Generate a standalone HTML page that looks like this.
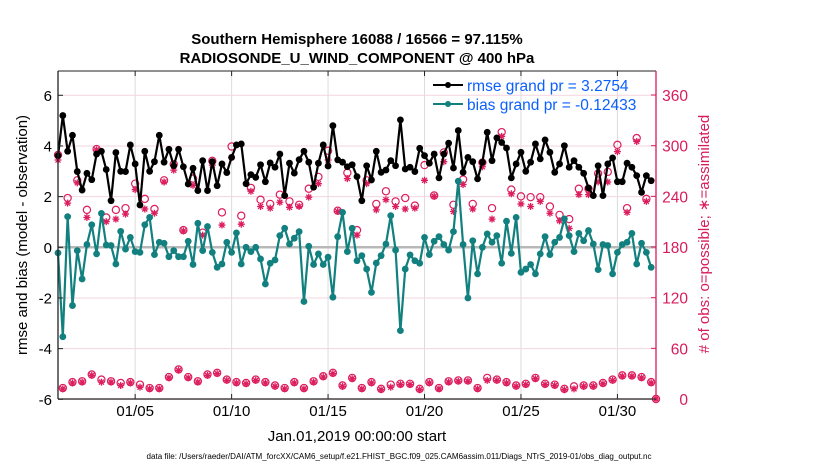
<!DOCTYPE html>
<html><head><meta charset="utf-8"><style>
body{margin:0;background:#fff;width:830px;height:470px;overflow:hidden}
svg text{font-family:"Liberation Sans",sans-serif}
</style></head><body>
<svg id="chart" width="830" height="470" viewBox="0 0 830 470" xmlns="http://www.w3.org/2000/svg">
<text x="357" y="44" text-anchor="middle" font-size="15" font-weight="bold">Southern Hemisphere 16088 / 16566 = 97.115%</text>
<text x="357" y="63" text-anchor="middle" font-size="15" font-weight="bold">RADIOSONDE_U_WIND_COMPONENT @ 400 hPa</text>
<g id="grid"></g>
<g id="marks"></g>
<g id="axes"></g>
<g>
<line x1="433" y1="85" x2="463" y2="85" stroke="#000" stroke-width="2"/><circle cx="448" cy="85" r="3" fill="#000"/>
<text x="467" y="91" font-size="15.5" fill="#0b5fff">rmse grand pr = 3.2754</text>
<line x1="433" y1="104" x2="463" y2="104" stroke="#12807f" stroke-width="2"/><circle cx="448" cy="104" r="3" fill="#12807f"/>
<text x="467" y="110" font-size="15.5" fill="#0b5fff">bias grand pr = -0.12433</text>
</g>
<text transform="translate(27,235) rotate(-90)" text-anchor="middle" font-size="15">rmse and bias (model - observation)</text>
<text transform="translate(709,234) rotate(-90)" text-anchor="middle" font-size="15" fill="#d81b5a"># of obs: o=possible; ∗=assimilated</text>
<text x="357" y="441" text-anchor="middle" font-size="15">Jan.01,2019 00:00:00 start</text>
<text x="399" y="459" text-anchor="middle" font-size="8" textLength="505" lengthAdjust="spacingAndGlyphs">data file: /Users/raeder/DAI/ATM_forcXX/CAM6_setup/f.e21.FHIST_BGC.f09_025.CAM6assim.011/Diags_NTrS_2019-01/obs_diag_output.nc</text>
</svg>
<script>
const rmse=[3.62,5.2,3.79,4.42,2.99,2.26,2.92,2.67,3.68,3.79,3.07,1.84,3.74,3.0,2.99,4.04,3.29,1.67,3.79,3.0,3.38,4.42,3.36,3.87,3.22,3.87,3.18,2.5,3.12,2.24,3.42,2.24,3.38,2.43,3.29,2.95,3.55,4.04,4.08,2.51,2.87,
2.76,3.26,2.59,3.33,3.16,3.68,2.04,3.32,2.93,3.46,3.79,3.36,2.37,3.32,4.04,3.21,4.8,3.45,3.36,3.18,3.26,2.79,1.84,3.22,2.66,3.79,2.96,3.05,3.42,3.22,5.03,3.09,3.16,2.99,3.91,3.62,3.32,3.68,2.74,3.68,4.11,3.13,4.61,
2.96,3.55,3.38,2.7,3.36,4.54,3.42,4.32,4.14,3.92,2.74,3.29,3.75,3.0,3.36,4.08,3.49,4.24,3.75,2.96,3.29,4.01,3.16,3.42,3.16,2.92,2.34,2.04,3.22,2.04,3.29,3.53,2.59,2.59,3.32,3.16,2.83,2.17,2.83,2.63];
const bias=[-0.22,-3.53,1.21,-2.3,-0.13,-1.25,0.11,0.89,-0.26,1.34,0.09,0.07,-0.66,0.63,-0.07,0.39,-0.17,-0.2,0.89,1.18,-0.29,0.2,0.16,-0.37,-0.13,-0.37,-0.37,0.24,-0.68,0.95,-0.13,0.82,-0.2,-0.79,-0.66,0.2,-0.2,0.57,-0.66,0,-0.17,
0,-0.46,-1.45,-0.63,-0.5,0.46,0.75,0.13,0.36,0.62,-2.14,0.04,-0.68,-0.26,-0.68,-0.39,-1.97,0.42,1.38,-0.17,0.75,-0.53,-0.33,-0.86,-1.78,-0.62,-0.33,0.13,1.25,-0.11,-3.29,-0.86,-0.3,-0.53,-0.63,0.39,-0.29,0.24,0.42,0.11,-0.11,0.62,2.61,
0.11,-2.0,0.26,-1.05,0,0.53,0.2,0.46,-0.63,1.03,-0.24,1.18,-0.99,-0.86,-0.68,-1.05,-0.26,0.42,-0.29,0.2,0.39,1.12,0.46,-0.17,0.55,0.26,0.66,0.13,-0.88,0.11,0.07,-1.05,-0.2,0.11,0.2,0.55,-0.66,0.16,-0.2,-0.79];
const obsPossible=[289,13,238,20,259,21,224,29,296,23,215,21,224,19,226,20,255,17,237,13,225,13,259,26,278,35,200,26,261,21,197,29,282,31,221,23,299,20,217,19,250,23,236,20,231,16,242,13,234,20,230,13,249,21,263,27,294,31,223,16,268,25,200,13,259,20,231,12,246,17,234,18,238,18,229,12,277,20,241,13,292,21,230,22,260,22,231,13,280,25,226,23,316,20,248,16,240,18,239,25,239,18,228,17,218,12,213,15,249,16,249,16,267,19,269,23,301,28,226,28,309,26,237,20,0];
const obsAssim=[283,12,232,19,256,20,215,28,295,20,210,20,213,16,219,19,248,14,225,12,220,12,257,25,271,34,199,25,253,20,194,28,277,30,206,22,286,19,207,18,246,22,228,19,226,15,233,12,227,19,228,12,239,20,255,26,283,30,222,15,261,24,194,12,255,19,224,11,236,14,228,17,225,17,226,11,259,19,240,12,281,20,222,21,254,21,225,12,275,22,213,22,311,19,243,15,231,17,228,24,234,17,220,16,211,11,202,12,242,15,242,15,257,18,257,22,293,27,221,27,305,25,234,19,0];
const yTicksLeft=[-6,-4,-2,0,2,4,6];
const yTicksRight=[0,60,120,180,240,300,360];
const xTickDays=[5,10,15,20,25,30];
const xTickLabels=["01/05","01/10","01/15","01/20","01/25","01/30"];

const NS="http://www.w3.org/2000/svg";
const L=58,R=656,T=71,B=399,DAYS=31;
const xs=i=>L+(i*0.25)/DAYS*(R-L);
const xd=d=>L+(d-1)/DAYS*(R-L);
const yL=v=>247.3-v*((B-95)/12);
const yR=c=>B-c*((B-95)/360);
function mk(tag,attrs,parent){const e=document.createElementNS(NS,tag);for(const k in attrs)e.setAttribute(k,attrs[k]);parent.appendChild(e);return e;}
const grid=document.getElementById('grid'),marks=document.getElementById('marks'),axes=document.getElementById('axes');
xTickDays.forEach((d,k)=>{
  const g=mk('line',{x1:xd(d),x2:xd(d),y1:T,y2:B,stroke:'#dcdcdc','stroke-width':1},grid);
  
  
  const t=mk('text',{x:xd(d),y:416,'text-anchor':'middle','font-size':15},axes);
  t.textContent=xTickLabels[k];
  
  
  mk('line',{x1:xd(d),x2:xd(d),y1:B,y2:B-5,stroke:'#222'},axes);
  mk('line',{x1:xd(d),x2:xd(d),y1:T,y2:T+5,stroke:'#222'},axes);
});
yTicksLeft.forEach(v=>{
  const g=mk('line',{x1:L,x2:R,y1:yL(v),y2:yL(v),stroke:'#f3d6de','stroke-width':1},grid);
  
  
  const t=mk('text',{x:52,y:yL(v)+5.5,'text-anchor':'end','font-size':15},axes);
  t.textContent=v;
  
  
  mk('line',{x1:L,x2:L+5,y1:yL(v),y2:yL(v),stroke:'#222'},axes);
});
yTicksRight.forEach(c=>{
  const t=mk('text',{x:688,y:yR(c)+6,'text-anchor':'end','font-size':15.5,fill:'#d81b5a'},axes);
  t.textContent=c;
  
  
  mk('line',{x1:R,x2:R-5,y1:yR(c),y2:yR(c),stroke:'#d81b5a'},axes);
});
const zl=mk('line',{x1:L,x2:R,y1:yL(0),y2:yL(0),stroke:'#b8b8b8','stroke-width':2.5},grid);


const pink='#dc1d5e';
obsPossible.forEach((c,i)=>{
  const x=xs(i);
  const o=mk('circle',{cx:x,cy:yR(c),r:3.6,fill:'none',stroke:pink,'stroke-width':1.2},marks);
  
  
  const ya=yR(obsAssim[i]);
  const a=mk('path',{d:`M${x-3.5},${ya}H${x+3.5}M${x},${ya-3.5}V${ya+3.5}M${x-2.5},${ya-2.5}L${x+2.5},${ya+2.5}M${x-2.5},${ya+2.5}L${x+2.5},${ya-2.5}`,stroke:pink,'stroke-width':1.3},marks);
  
  
});
function series(arr,color,name){
  const p=mk('polyline',{points:arr.map((v,i)=>xs(i)+','+yL(v)).join(' '),fill:'none',stroke:color,'stroke-width':2.2,'stroke-linejoin':'round'},marks);
  
  
  arr.forEach((v,i)=>{
    const c=mk('circle',{cx:xs(i),cy:yL(v),r:3.4,fill:color},marks);
    
    
  });
}
series(bias,'#12807f','bias');
series(rmse,'#000','rmse');
mk('line',{x1:L,x2:R,y1:B,y2:B,stroke:'#222','stroke-width':1.3},axes);
mk('line',{x1:L,x2:R,y1:T,y2:T,stroke:'#222','stroke-width':1},axes);
mk('line',{x1:L,x2:L,y1:T,y2:B,stroke:'#222','stroke-width':1.3},axes);
mk('line',{x1:R,x2:R,y1:T,y2:B,stroke:'#d81b5a','stroke-width':1.3},axes);
</script>
</body></html>
